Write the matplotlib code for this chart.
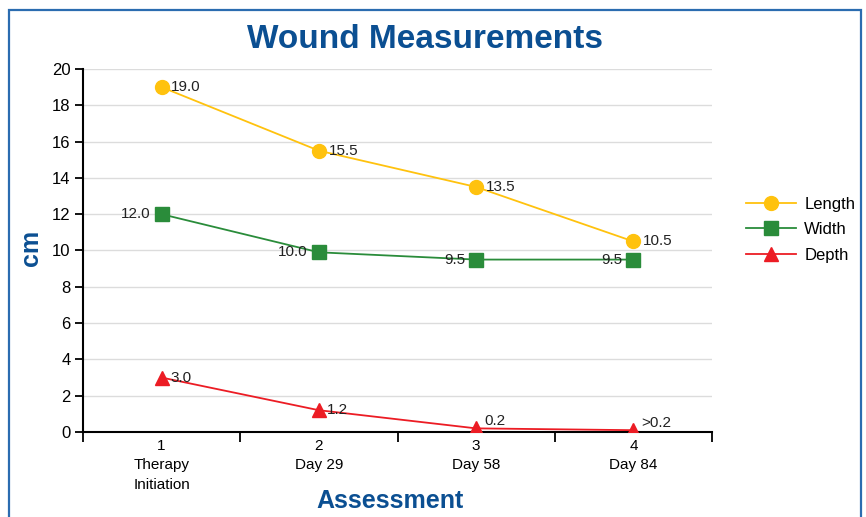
import matplotlib
matplotlib.use("Agg")
import matplotlib.pyplot as plt
from matplotlib.patches import Rectangle

# data
steps = [1, 2, 3, 4]
step_labels = ["1\nTherapy\nInitiation", "2\nDay 29", "3\nDay 58", "4\nDay 84"]
length = [19.0, 15.5, 13.5, 10.5]
width = [12.0, 9.9, 9.5, 9.5]
depth = [3.0, 1.2, 0.2, 0.1]
length_txt = ["19.0", "15.5", "13.5", "10.5"]
width_txt = ["12.0", "10.0", "9.5", "9.5"]
depth_txt = ["3.0", "1.2", "0.2", ">0.2"]

plt.rcParams['font.family'] = ['Liberation Sans', 'DejaVu Sans']

navy = "#0b4f92"
yellow = "#ffc20e"
green = "#2a8c3a"
red = "#ec1c24"

fig = plt.figure(figsize=(8.66, 5.17), dpi=100)
ax = fig.add_axes([83/866, 1 - 432/517, (712 - 83)/866, (432 - 69)/517])

# blue frame around the whole picture
fig.patches.append(Rectangle((9/866, -0.05), (861 - 9)/866, 1.05 - 10/517,
                             transform=fig.transFigure, fill=False,
                             edgecolor="#2b6cb0", lw=1.6))

for y in range(2, 21, 2):
    ax.axhline(y, color="#dcdcdc", lw=1, zorder=0)

ax.plot(steps, length, color=yellow, marker="o", ms=10, lw=1.3, label="Length", zorder=3)
ax.plot(steps, width, color=green, marker="s", ms=10, lw=1.3, label="Width", zorder=3)
ax.plot(steps, depth, color=red, marker="^", ms=10, lw=1.3, label="Depth", zorder=3)

for x, y, t in zip(steps, length, length_txt):
    ax.annotate(t, (x, y), xytext=(7, 0), textcoords="offset points",
                ha="left", va="center", fontsize=11, color="#222222")
for x, y, t in zip(steps, width, width_txt):
    ax.annotate(t, (x, y), xytext=(-8, 0), textcoords="offset points",
                ha="right", va="center", fontsize=11, color="#222222")
for i, (x, y, t) in enumerate(zip(steps, depth, depth_txt)):
    dy = 0 if i < 2 else 5
    ax.annotate(t, (x, y), xytext=(6, dy), textcoords="offset points",
                ha="left", va="center", fontsize=11, color="#222222")

ax.set_xlim(0.5, 4.5)
ax.set_ylim(0, 20)
ax.set_yticks(range(0, 21, 2))
ax.set_xticks(steps)
ax.set_xticklabels(step_labels, fontsize=11, linespacing=1.5)
ax.set_xticks([0.5, 1.5, 2.5, 3.5, 4.5], minor=True)
ax.tick_params(axis="x", which="major", length=0, pad=5)
ax.tick_params(axis="x", which="minor", length=7, width=1.3, direction="out")
ax.tick_params(axis="y", length=6, width=1.3, labelsize=12, pad=3)

for s in ["top", "right"]:
    ax.spines[s].set_visible(False)
ax.spines["left"].set_linewidth(1.5)
ax.spines["bottom"].set_linewidth(1.5)
ax.spines["bottom"].set_zorder(2)

fig.text(425/866, 1 - 40/517, "Wound Measurements", ha="center", va="center",
         fontsize=24, fontweight="bold", color=navy)
fig.text(31/866, 1 - 248/517, "cm", ha="center", va="center", rotation=90,
         fontsize=18, fontweight="bold", color=navy)
fig.text(390/866, 1 - 501/517, "Assessment", ha="center", va="center",
         fontsize=18, fontweight="bold", color=navy)

ax.legend(loc="center left", bbox_to_anchor=(1.03, 0.557), frameon=False,
          fontsize=12, handlelength=3, labelspacing=0.62, handletextpad=0.5)

fig.savefig("out.png", dpi=100)
